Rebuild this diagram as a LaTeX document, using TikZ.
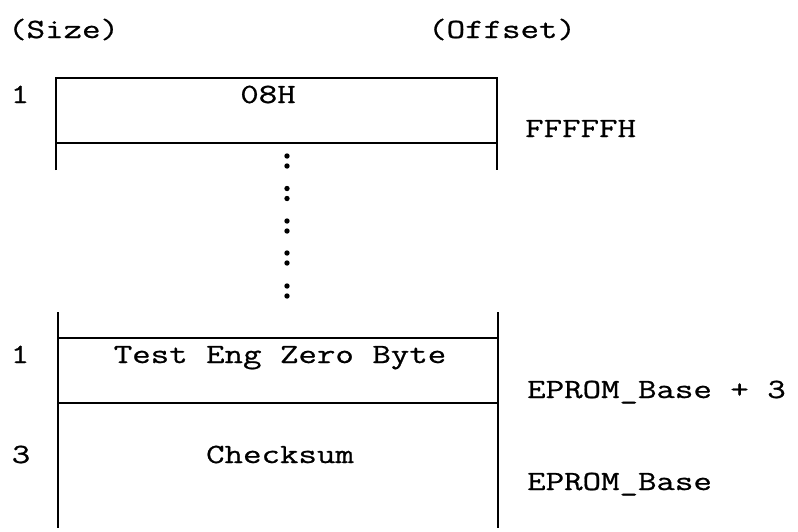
\documentclass[tikz,border=0pt]{standalone}
\usepackage{fontspec}
\setmonofont[FakeStretch=1.29,FakeBold=0.8]{Latin Modern Mono}
\begin{document}
\begin{tikzpicture}[x=1pt,y=-1pt,
  lbl/.style={inner sep=0pt, font=\fontsize{27.8}{30}\selectfont\ttfamily},
  rule/.style={line width=1.2pt, black},
  dotmark/.style={fill=black, draw=none}]
\useasboundingbox (0,0) rectangle (798,531);
\fill[white] (0,0) rectangle (798,531);

% headers
\node[lbl, anchor=base west] (size) at (8,38) {(Size)};
\node[lbl, anchor=base west] (offset) at (428,38) {(Offset)};

% top box
\coordinate (tl) at (56,78);
\coordinate (tr) at (497,78);
\coordinate (ml) at (56,143);
\coordinate (mr) at (497,143);
\coordinate (bl) at (56,170);
\coordinate (br) at (497,170);
\draw[rule] (bl) -- (tl) -- (tr) -- (br);
\draw[rule] (ml) -- (mr);

\node[lbl, anchor=base] (s1) at (20,103) {1};
\node[lbl, anchor=base] (b08) at (268,103) {08H};
\node[lbl, anchor=base west] (fff) at (525,137) {FFFFFH};

% dots
\foreach \yy in {161,193.5,226,258,291}{
  \fill[dotmark] (287,\yy-5) circle (2.7pt);
  \fill[dotmark] (287,\yy+5) circle (2.7pt);
}

% lower box
\coordinate (ltl) at (58,312);
\coordinate (ltr) at (498,312);
\coordinate (lbl1) at (58,528);
\coordinate (lbr1) at (498,528);
\coordinate (h1l) at (58,338);
\coordinate (h1r) at (498,338);
\coordinate (h2l) at (58,403);
\coordinate (h2r) at (498,403);
\draw[rule] (ltl) -- (lbl1);
\draw[rule] (ltr) -- (lbr1);
\draw[rule] (h1l) -- (h1r);
\draw[rule] (h2l) -- (h2r);

\node[lbl, anchor=base] (s2) at (20,363) {1};
\node[lbl, anchor=base] (teng) at (280,363) {Test Eng Zero Byte};
\node[lbl, anchor=base west] (ep3) at (527,398) {EPROM\_Base + 3};

\node[lbl, anchor=base] (s3) at (21,463) {3};
\node[lbl, anchor=base] (chk) at (280,463) {Checksum};
\node[lbl, anchor=base west] (ep) at (527,490) {EPROM\_Base};
\end{tikzpicture}
\end{document}
